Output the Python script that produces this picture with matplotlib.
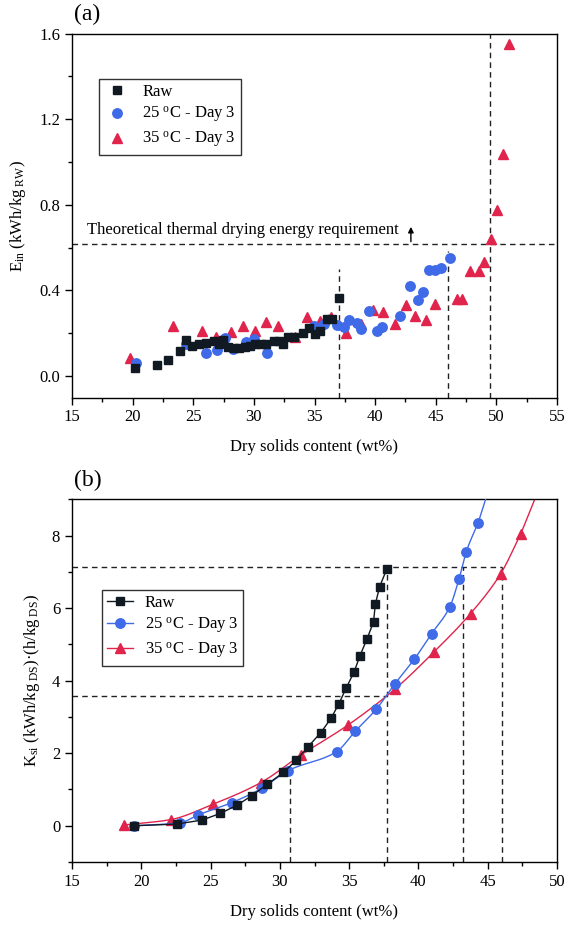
import numpy as np
import matplotlib
matplotlib.use('Agg')
import matplotlib.pyplot as plt
from matplotlib.ticker import MultipleLocator, FormatStrFormatter

plt.rcParams['font.family'] = ['Liberation Serif', 'DejaVu Serif']
plt.rcParams['mathtext.fontset'] = 'custom'
plt.rcParams['mathtext.rm'] = 'Liberation Serif'
plt.rcParams['mathtext.it'] = 'Liberation Serif:italic'
plt.rcParams['mathtext.default'] = 'rm'

# ---------------- Panel (a) data ----------------
raw_a_x = [20.18, 22.04, 22.94, 23.9, 24.44, 24.89, 25.49, 26.09, 26.69, 27.13, 27.49, 27.88,
           28.33, 28.78, 29.23, 29.68, 30.13, 30.58, 31.03, 31.63, 32.08, 32.38, 32.83, 33.28,
           34.03, 34.57, 35.07, 35.46, 36.06, 36.48, 37.02]
raw_a_y = [0.037, 0.054, 0.075, 0.118, 0.167, 0.139, 0.151, 0.154, 0.163, 0.151, 0.167, 0.135,
           0.132, 0.132, 0.135, 0.142, 0.148, 0.151, 0.151, 0.163, 0.163, 0.148, 0.185, 0.185,
           0.201, 0.226, 0.195, 0.210, 0.268, 0.268, 0.364]
t25_a_x = [20.3, 24.44, 26.03, 26.93, 27.64, 28.27, 29.38, 29.98, 31.09, 34.93, 35.82, 36.87,
           37.47, 37.86, 38.52, 38.82, 39.48, 40.17, 40.56, 42.06, 42.87, 43.52, 43.91, 44.45,
           44.9, 45.47, 46.16]
t25_a_y = [0.062, 0.148, 0.107, 0.120, 0.177, 0.126, 0.159, 0.174, 0.107, 0.232, 0.244, 0.237,
           0.229, 0.263, 0.247, 0.218, 0.304, 0.210, 0.229, 0.283, 0.423, 0.356, 0.392, 0.497,
           0.497, 0.504, 0.553]
t35_a_x = [19.79, 23.3, 25.7, 26.84, 28.12, 29.08, 30.13, 31.03, 32.02, 33.43, 34.42, 35.46,
           36.36, 37.56, 38.82, 39.81, 40.62, 41.61, 42.51, 43.31, 44.21, 44.96, 46.76, 47.15,
           47.81, 48.56, 49.0, 49.55, 50.06, 50.57, 51.05]
t35_a_y = [0.086, 0.232, 0.213, 0.185, 0.205, 0.232, 0.213, 0.252, 0.232, 0.182, 0.275, 0.257,
           0.275, 0.202, 0.244, 0.310, 0.299, 0.244, 0.333, 0.279, 0.263, 0.338, 0.358, 0.358,
           0.493, 0.493, 0.535, 0.641, 0.777, 1.039, 1.55]
theory_level = 0.615
vlines_a = [(37.0, 0.50), (46.0, 0.585), (49.5, 1.6)]

# ---------------- Panel (b) data ----------------
raw_b_x = [19.5, 22.55, 24.39, 25.7, 26.93, 27.98, 29.08, 30.26, 31.2, 32.04, 32.96, 33.69,
           34.27, 34.8, 35.37, 35.77, 36.29, 36.76, 36.89, 37.2, 37.73]
raw_b_y = [0.0, 0.046, 0.156, 0.34, 0.57, 0.83, 1.14, 1.47, 1.81, 2.18, 2.57, 2.96,
           3.37, 3.81, 4.25, 4.68, 5.15, 5.62, 6.11, 6.59, 7.09]
t25_b_x = [19.46, 22.79, 24.12, 26.54, 28.69, 30.6, 34.09, 35.45, 36.97, 38.28, 39.7,
           40.96, 42.27, 42.92, 43.45, 44.31]
t25_b_y = [0.0, 0.08, 0.30, 0.64, 1.03, 1.52, 2.04, 2.61, 3.22, 3.90, 4.59,
           5.30, 6.04, 6.79, 7.55, 8.35]
t35_b_x = [18.75, 22.13, 25.15, 28.63, 31.52, 34.93, 38.28, 41.09, 43.76, 45.94, 47.38]
t35_b_y = [0.02, 0.17, 0.59, 1.19, 1.95, 2.78, 3.76, 4.78, 5.85, 6.95, 8.04]

labels = ['Raw', '25 $^{o}$C - Day 3', '35 $^{o}$C - Day 3']
c_raw = '#111a22'
c_25 = '#3f6ae8'
c_35 = '#e0244c'

FS = 12
MS_SQ, MS_CI, MS_TR = 5.8, 6.8, 7.4


def smooth_curve(x, y, xs, ext_gain=1.25):
    """Monotone (Fritsch-Carlson) cubic through the points, continued past the last one."""
    x = np.asarray(x, float); y = np.asarray(y, float)
    h = np.diff(x); dl = np.diff(y) / h
    m = np.zeros_like(x)
    m[0], m[-1] = dl[0], dl[-1]
    for i in range(1, len(x) - 1):
        if dl[i - 1] * dl[i] <= 0:
            m[i] = 0
        else:
            w1 = 2 * h[i] + h[i - 1]; w2 = h[i] + 2 * h[i - 1]
            m[i] = (w1 + w2) / (w1 / dl[i - 1] + w2 / dl[i])
    xs = np.asarray(xs, float)
    out = np.empty_like(xs)
    inside = xs <= x[-1]
    idx = np.clip(np.searchsorted(x, xs[inside]) - 1, 0, len(x) - 2)
    t = (xs[inside] - x[idx]) / h[idx]
    h00 = 2 * t**3 - 3 * t**2 + 1; h10 = t**3 - 2 * t**2 + t
    h01 = -2 * t**3 + 3 * t**2; h11 = t**3 - t**2
    out[inside] = (h00 * y[idx] + h10 * h[idx] * m[idx] + h01 * y[idx + 1]
                   + h11 * h[idx] * m[idx + 1])
    out[~inside] = y[-1] + m[-1] * ext_gain * (xs[~inside] - x[-1])
    return out


fig = plt.figure(figsize=(5.67, 9.26), dpi=100)
axL, axW = 72 / 567, (557 - 72) / 567
ax1 = fig.add_axes([axL, 0.5707, axW, 0.3931])
ax2 = fig.add_axes([axL, 0.0691, axW, 0.3917])

dash = (0, (4, 3))
dcol = '#222222'

for ax in (ax1, ax2):
    for s in ax.spines.values():
        s.set_linewidth(1.0)
    ax.tick_params(which='both', direction='out', top=False, right=False, labelsize=FS)
    ax.tick_params(which='major', length=5, width=1)
    ax.tick_params(which='minor', length=3, width=1)

legkw = dict(borderaxespad=0, fontsize=FS, frameon=True, fancybox=False, edgecolor='black',
             handletextpad=0.7, labelspacing=0.3, borderpad=0.3, handlelength=1.6)

# ---- Panel (a)
ax1.plot(raw_a_x, raw_a_y, 's', color=c_raw, ms=MS_SQ, label=labels[0], zorder=4)
ax1.plot(t25_a_x, t25_a_y, 'o', color=c_25, ms=MS_CI, label=labels[1], zorder=3)
ax1.plot(t35_a_x, t35_a_y, '^', color=c_35, ms=MS_TR, label=labels[2], zorder=2)
ax1.axhline(theory_level, color=dcol, lw=1, ls=dash, zorder=1)
for xv, ytop in vlines_a:
    ax1.plot([xv, xv], [-0.1, ytop], color=dcol, lw=1, ls=dash, zorder=1)
ax1.text(16.2, 0.683, 'Theoretical thermal drying energy requirement', fontsize=FS,
         ha='left', va='center')
ax1.annotate('', xy=(42.95, 0.71), xytext=(42.95, theory_level),
             arrowprops=dict(arrowstyle='-|>', color='black', lw=1, mutation_scale=8))
ax1.set_xlim(15, 55)
ax1.set_ylim(-0.1, 1.6)
ax1.xaxis.set_major_locator(MultipleLocator(5))
ax1.xaxis.set_minor_locator(MultipleLocator(2.5))
ax1.yaxis.set_major_locator(MultipleLocator(0.4))
ax1.yaxis.set_minor_locator(MultipleLocator(0.2))
ax1.yaxis.set_major_formatter(FormatStrFormatter('%.1f'))
ax1.set_xlabel('Dry solids content (wt%)', fontsize=FS, labelpad=10)
ax1.set_ylabel('E$_{in}$ (kWh/kg$_{\\ RW}$)', fontsize=FS, labelpad=8)
leg1 = ax1.legend(loc='upper left', bbox_to_anchor=(0.056, 0.875), **legkw)
leg1.get_frame().set_linewidth(1.0)
ax1.text(0.005, 1.052, '(a)', transform=ax1.transAxes, fontsize=17, ha='left', va='center')

# ---- Panel (b)
hraw, = ax2.plot(raw_b_x, raw_b_y, 's-', color=c_raw, ms=MS_SQ, lw=1, zorder=4)
xs25 = np.linspace(t25_b_x[0], 45.2, 400)
xs35 = np.linspace(t35_b_x[0], 48.8, 400)
ax2.plot(xs25, smooth_curve(t25_b_x, t25_b_y, xs25, 1.3), '-', color=c_25, lw=1, zorder=3)
ax2.plot(xs35, smooth_curve(t35_b_x, t35_b_y, xs35, 1.25), '-', color=c_35, lw=1, zorder=2)
ax2.plot(t25_b_x, t25_b_y, 'o', color=c_25, ms=MS_CI, zorder=3)
ax2.plot(t35_b_x, t35_b_y, '^', color=c_35, ms=MS_TR, zorder=2)
h25, = ax2.plot([], [], 'o-', color=c_25, ms=MS_CI, lw=1)
h35, = ax2.plot([], [], '^-', color=c_35, ms=MS_TR, lw=1)

ax2.plot([15, 46.0], [7.12, 7.12], color=dcol, lw=1, ls=dash, zorder=1)
for xv in (37.73, 43.24, 46.05):
    ax2.plot([xv, xv], [-1, 7.12], color=dcol, lw=1, ls=dash, zorder=1)
ax2.plot([15, 37.73], [3.59, 3.59], color=dcol, lw=1, ls=dash, zorder=1)
ax2.plot([30.76, 30.76], [-1, 1.4], color=dcol, lw=1, ls=dash, zorder=1)

ax2.set_xlim(15, 50)
ax2.set_ylim(-1, 9)
ax2.xaxis.set_major_locator(MultipleLocator(5))
ax2.xaxis.set_minor_locator(MultipleLocator(2.5))
ax2.yaxis.set_major_locator(MultipleLocator(2))
ax2.yaxis.set_minor_locator(MultipleLocator(1))
ax2.set_xlabel('Dry solids content (wt%)', fontsize=FS, labelpad=10)
ax2.set_ylabel('K$_{si}$ (kWh/kg$_{\\ DS}$)·(h/kg$_{\\ DS}$)', fontsize=FS, labelpad=7)
leg2 = ax2.legend([hraw, h25, h35], labels, loc='upper left',
                  bbox_to_anchor=(0.061, 0.751), **legkw)
leg2.get_frame().set_linewidth(1.0)
ax2.text(0.005, 1.052, '(b)', transform=ax2.transAxes, fontsize=17, ha='left', va='center')

fig.savefig('out.png', dpi=100)
